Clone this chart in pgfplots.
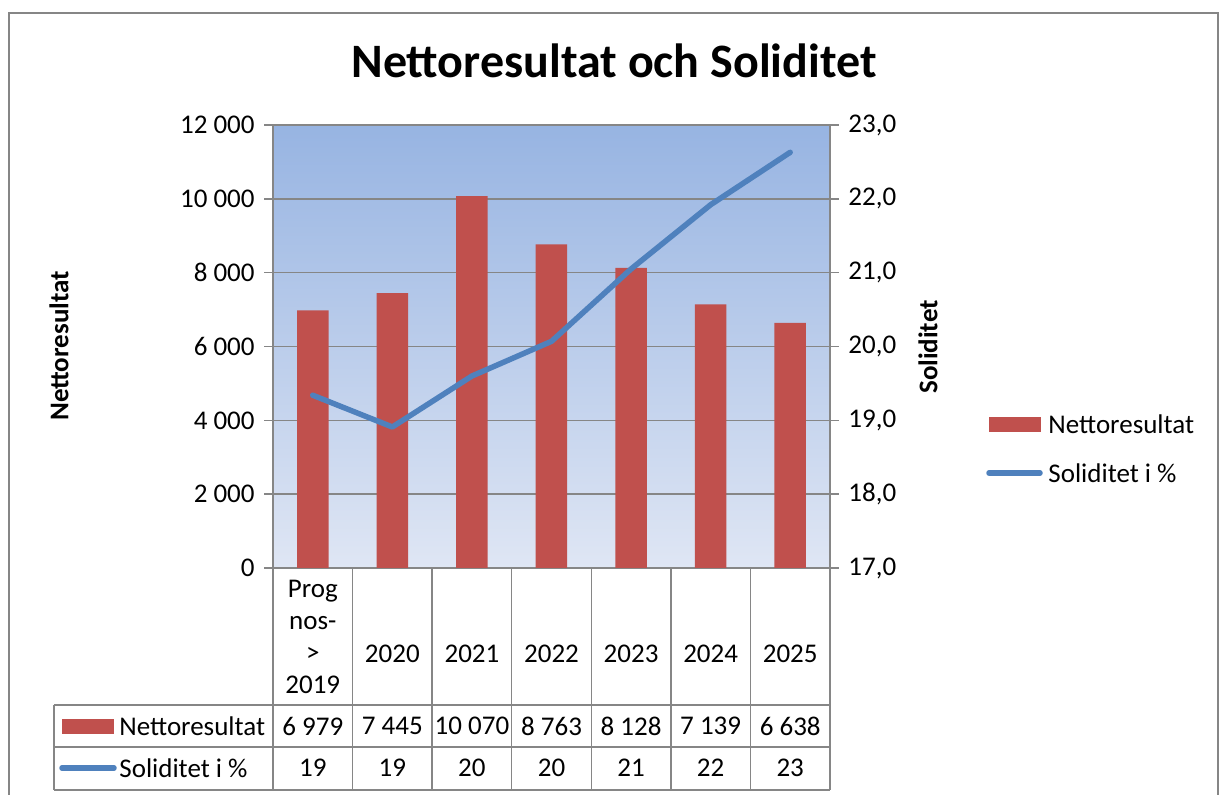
\documentclass[border=0pt]{standalone}
\usepackage{fontspec}
\setmainfont{Carlito}
\usepackage{pgfplots}
\pgfplotsset{compat=1.18}
\definecolor{barred}{HTML}{C0504D}
\definecolor{lineblue}{HTML}{4F81BD}
\definecolor{gridgray}{HTML}{868686}
\definecolor{bgtop}{RGB}{151,180,226}
\definecolor{bgbot}{RGB}{223,230,244}
\begin{document}
\fontsize{13.5pt}{16pt}\selectfont
\begin{tikzpicture}[x=0.5pt,y=0.5pt]
\useasboundingbox (0,0) rectangle (1222,794);
\draw[gridgray, line width=0.75pt] (9,-5) -- (9,781) -- (1218,781) -- (1218,-5);

\begin{axis}[
  at={(136.5pt,113pt)}, anchor=south west,
  scale only axis, width=278.5pt, height=221.5pt,
  xmin=-0.5, xmax=6.5, ymin=0, ymax=12000,
  xtick=\empty,
  ytick={0,2000,4000,6000,8000,10000,12000},
  ytick pos=left,
  tick align=outside, major tick length=4.5pt,
  ymajorgrids, grid style={gridgray, line width=0.75pt},
  axis line style={gridgray, line width=0.75pt},
  tick style={gridgray, line width=0.75pt},
  axis background/.style={top color=bgtop, bottom color=bgbot},
  scaled y ticks=false,
  /pgf/number format/1000 sep={\ },
  /pgf/number format/assume math mode=true,
  ybar, bar width=15.75pt,
]
\addplot[fill=barred, draw=none] coordinates {(0,6979) (1,7445) (2,10070) (3,8763) (4,8128) (5,7139) (6,6638)};
\end{axis}

\begin{axis}[
  at={(136.5pt,113pt)}, anchor=south west,
  scale only axis, width=278.5pt, height=221.5pt,
  xmin=-0.5, xmax=6.5, ymin=17, ymax=23,
  axis y line*=right, axis x line=none,
  ytick={17,18,19,20,21,22,23},
  tick align=outside, major tick length=4.5pt,
  axis line style={gridgray, line width=0.75pt},
  tick style={gridgray, line width=0.75pt},
  /pgf/number format/.cd, fixed, fixed zerofill, precision=1, use comma, assume math mode=true,
]
\addplot[lineblue, line width=2.75pt, line cap=round, line join=round] coordinates {(0,19.34) (1,18.91) (2,19.60) (3,20.07) (4,21.05) (5,21.92) (6,22.63)};
\end{axis}

\node[anchor=base, font=\bfseries\fontsize{24pt}{29pt}\selectfont] at (614,716) {Nettoresultat och Soliditet};
\node[rotate=90, font=\bfseries] at (59,448) {Nettoresultat};
\node[rotate=90, font=\bfseries] at (928,447) {Soliditet};

% legend
\fill[barred] (989,362) rectangle (1041,377);
\node[anchor=west, inner sep=2pt] at (1044,370) {Nettoresultat};
\draw[lineblue, line width=2.75pt, line cap=round] (989,321) -- (1040,321);
\node[anchor=west, inner sep=2pt] at (1044,321) {Soliditet i \%};

% data table
\begin{scope}[gridgray, line width=0.75pt]
\foreach \k in {0,...,7} { \draw ({273+\k*79.571},226) -- ({273+\k*79.571},4); }
\draw (54,89) -- (54,4);
\draw (54,89) -- (830,89);
\draw (54,47) -- (830,47);
\draw (54,4) -- (830,4);
\end{scope}
\node[align=center] at ({273+0.5*79.571},157) {Prog\\nos-\\>\\2019};
\foreach \k/\t in {1/2020,2/2021,3/2022,4/2023,5/2024,6/2025} { \node at ({273+(\k+0.5)*79.571},140) {\t}; }
\foreach \k/\t in {0/6 979,1/7 445,2/10 070,3/8 763,4/8 128,5/7 139,6/6 638} { \node at ({273+(\k+0.5)*79.571},68) {\t}; }
\foreach \k/\t in {0/19,1/19,2/20,3/20,4/21,5/22,6/23} { \node at ({273+(\k+0.5)*79.571},26) {\t}; }
\fill[barred] (62,60) rectangle (114,75);
\node[anchor=west, inner sep=2pt] at (115,68) {Nettoresultat};
\draw[lineblue, line width=2.75pt, line cap=round] (62,26) -- (114,26);
\node[anchor=west, inner sep=2pt] at (115,26) {Soliditet i \%};
\end{tikzpicture}
\end{document}
